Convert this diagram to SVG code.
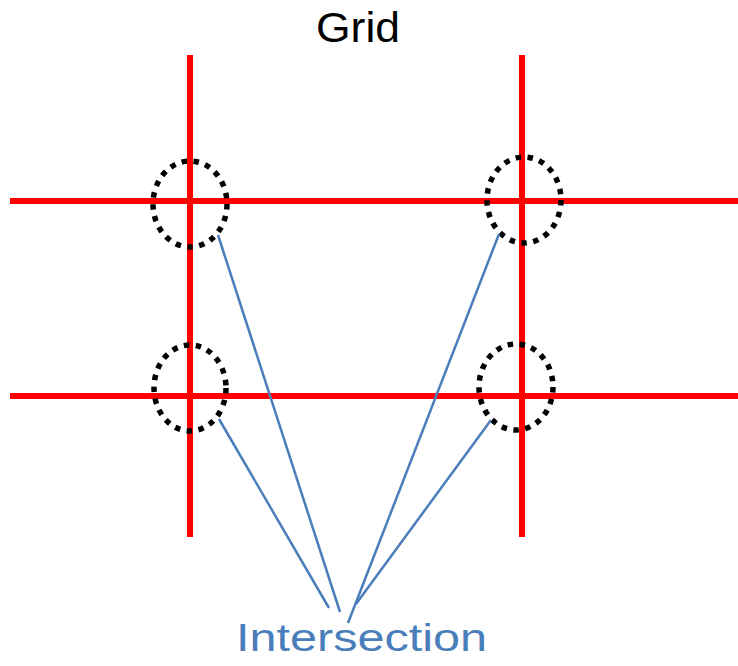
<svg xmlns="http://www.w3.org/2000/svg" width="738" height="666" viewBox="0 0 738 666">
<style>
.grid{stroke:#ff0000;stroke-width:6;fill:none}
.ring{fill:none;stroke:#000;stroke-width:5.5;stroke-dasharray:5.5 6.5}
.conn{stroke:#4a7ebb;stroke-width:2.5;fill:none}
.title{font-family:"Liberation Sans",Arial,sans-serif;font-size:42px;fill:#000}
.label{font-family:"Liberation Sans",Arial,sans-serif;font-size:39px;fill:#4a7ebb}
</style>
<rect width="738" height="666" fill="#fff"/>
<g id="grid">
<line class="grid" x1="190" y1="55" x2="190" y2="537"/>
<line class="grid" x1="522" y1="55" x2="522" y2="537"/>
<line class="grid" x1="10" y1="201" x2="738" y2="201"/>
<line class="grid" x1="10" y1="396" x2="738" y2="396"/>
</g>
<g id="title"><text class="title" x="358" y="42" text-anchor="middle" textLength="84" lengthAdjust="spacingAndGlyphs">Grid</text></g>
<g id="ring-tl"><ellipse class="ring" cx="190" cy="204" rx="37" ry="43"/></g>
<g id="ring-tr"><ellipse class="ring" cx="524" cy="200" rx="37" ry="43"/></g>
<g id="ring-bl"><ellipse class="ring" cx="190" cy="388" rx="36" ry="43"/></g>
<g id="ring-br"><ellipse class="ring" cx="516" cy="387" rx="37" ry="43"/></g>
<g id="connectors">
<line class="conn" x1="218" y1="235" x2="340" y2="612"/>
<line class="conn" x1="219" y1="419" x2="329" y2="608"/>
<line class="conn" x1="499" y1="234" x2="348" y2="623"/>
<line class="conn" x1="491" y1="420" x2="356" y2="604"/>
</g>
<g id="label"><text class="label" x="361.5" y="651" text-anchor="middle" textLength="251" lengthAdjust="spacingAndGlyphs">Intersection</text></g>
</svg>
